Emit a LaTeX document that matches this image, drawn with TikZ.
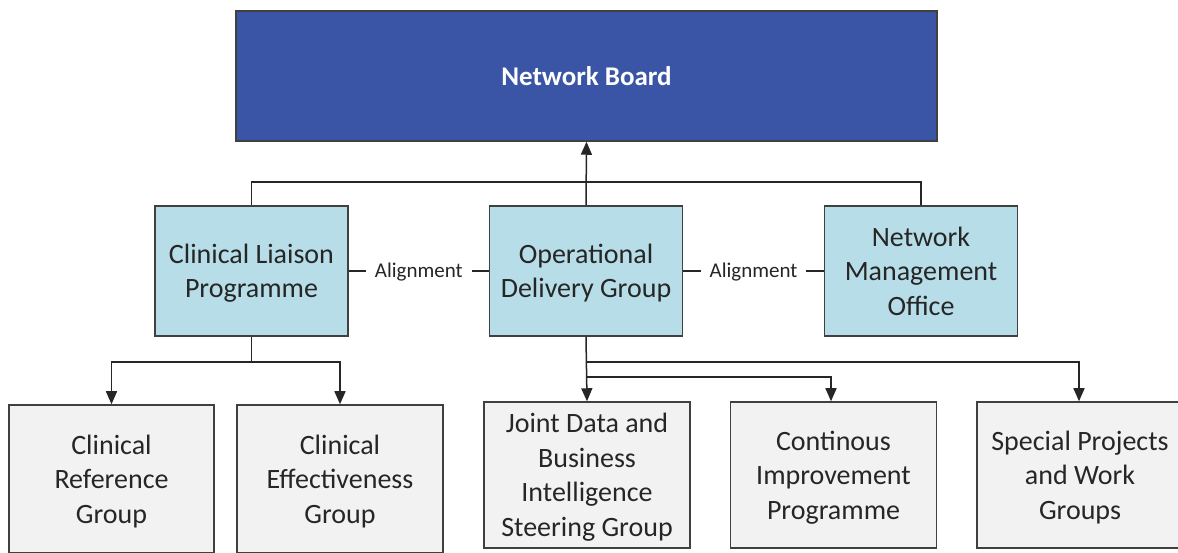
\documentclass[tikz,border=0pt]{standalone}
\usepackage{fontspec}
\setmainfont{Carlito}
\usetikzlibrary{arrows.meta}
\definecolor{boardblue}{RGB}{58,85,165}
\definecolor{teambox}{RGB}{183,221,232}
\definecolor{groupbox}{RGB}{242,242,242}
\definecolor{edgegray}{RGB}{64,64,64}
\definecolor{inkgray}{RGB}{38,38,38}
\tikzset{
  boardbox/.style={draw=edgegray, line width=1.5pt, fill=boardblue, text=white,
    minimum width=701pt, minimum height=130pt, inner sep=0pt,
    font=\fontsize{27}{33}\selectfont\bfseries},
  % zero depth so descenders on the last line do not lift the block
  boxtext/.style={align=center, font=\fontsize{28}{34.5}\selectfont, text depth=0pt},
  teamnode/.style={draw=edgegray, line width=1.5pt, fill=teambox, text=inkgray,
    minimum width=193pt, minimum height=130pt, inner sep=0pt, boxtext},
  groupnode/.style={draw=edgegray, line width=1.5pt, fill=groupbox, text=inkgray,
    minimum width=206pt, minimum height=146pt, inner sep=0pt, boxtext},
  link/.style={draw=black!85, line width=1.5pt},
  arrowlink/.style={link, -{Triangle[length=13pt,width=11pt]}},
  alignlabel/.style={fill=white, text=inkgray, inner xsep=9pt, inner ysep=3pt,
    yshift=-1.5pt, font=\fontsize{21}{24}\selectfont}
}
\begin{document}
\begin{tikzpicture}[x=1pt,y=1pt]
\useasboundingbox (0,0) rectangle (1178,552);

% top level
\node[boardbox] (nb) at (586.5,476) {Network Board};

% middle tier
\node[teamnode] (clp) at (251.5,281) {Clinical Liaison\\Programme};
\node[teamnode] (odg) at (586,281) {Operational\\Delivery Group};
\node[teamnode] (nmo) at (921,281) {Network\\Management\\Office};

% working groups
\node[groupnode, minimum width=205pt, minimum height=148pt] (crg) at (111.5,73) {Clinical\\Reference\\Group};
\node[groupnode, minimum height=148pt] (ceg) at (340,73) {Clinical\\Effectiveness\\Group};
\node[groupnode] (jdb) at (587,77) {Joint Data and\\Business\\Intelligence\\Steering Group};
\node[groupnode] (cip) at (833.5,77) {Continous\\Improvement\\Programme};
\node[groupnode] (spw) at (1080,77) {Special Projects\\and Work\\Groups};

% fork points
\coordinate (topbar) at (586,370);
\coordinate (clpfork) at (251.5,190);
\coordinate (odgforkA) at (586,190);
\coordinate (odgforkB) at (586,175);

% reporting lines
\draw[arrowlink] (odg.north) -- (nb.south);
\draw[link] (clp.north) |- (topbar) -| (nmo.north);

% alignment links
\draw[link] (clp.east) -- node[alignlabel] {Alignment} (odg.west);
\draw[link] (odg.east) -- node[alignlabel] {Alignment} (nmo.west);

% clinical liaison branches
\draw[link] (clp.south) -- (clpfork);
\draw[arrowlink] (clpfork) -| (crg.north);
\draw[arrowlink] (clpfork) -| (ceg.north);

% operational delivery branches
\draw[arrowlink] (odg.south) -- (jdb.north);
\draw[arrowlink] (odgforkB) -| ([xshift=-2.5pt]cip.north);
\draw[arrowlink] (odgforkA) -| ([xshift=-1pt]spw.north);
\end{tikzpicture}
\end{document}
